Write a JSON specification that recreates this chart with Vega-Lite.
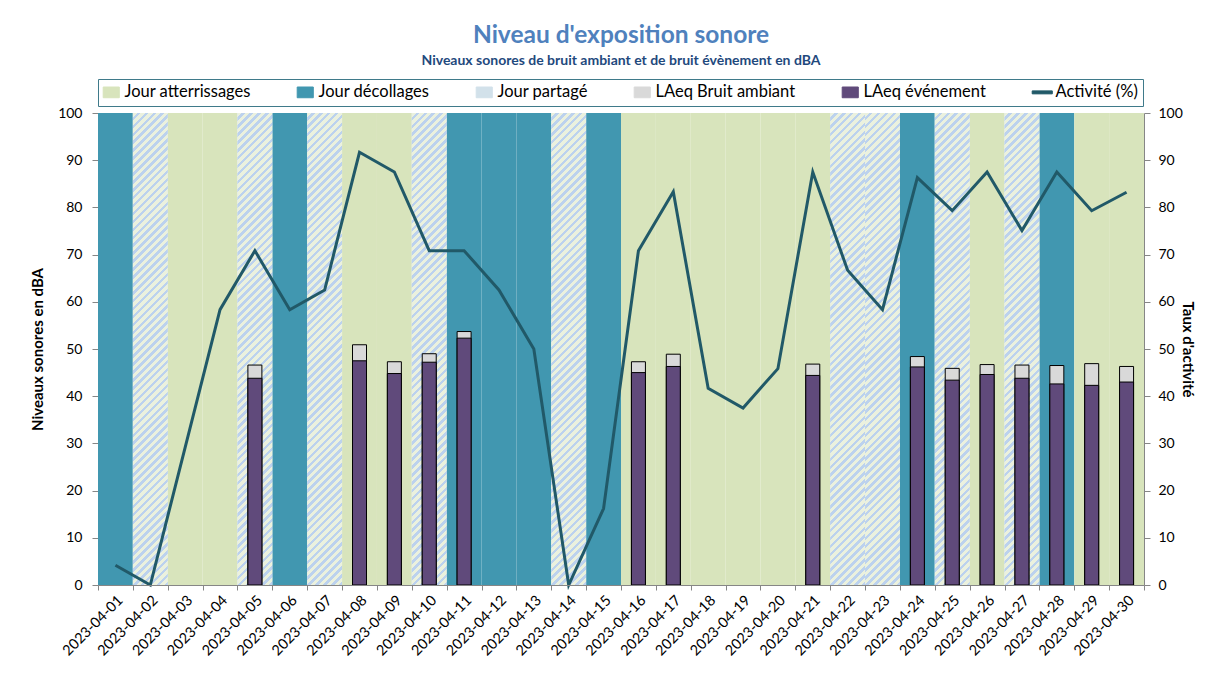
{
  "$schema": "https://vega.github.io/schema/vega-lite/v6.json",
  "width": 1046,
  "height": 472,
  "padding": {"left": 30, "top": 23, "right": 10, "bottom": 0},
  "background": "white",
  "config": {
    "view": {"stroke": null},
    "font": "Lato",
    "axis": {
      "labelFont": "Lato", "labelFontSize": 14, "labelColor": "#000000",
      "titleFont": "Lato", "titleFontSize": 15, "titleFontWeight": "bold", "titleColor": "#000000",
      "tickColor": "#868686", "domainColor": "#868686", "grid": false
    },
    "legend": {
      "orient": "top", "direction": "horizontal",
      "labelFont": "Lato", "labelFontSize": 16.5, "labelColor": "#000000",
      "columnPadding": 44, "padding": 5, "strokeColor": "#3f7a8a",
      "symbolSize": 180, "symbolType": "square", "symbolStrokeWidth": 1, "offset": 7, "labelOffset": 5, "labelLimit": 300
    }
  },
  "title": {
    "text": "Niveau d'exposition sonore",
    "subtitle": "Niveaux sonores de bruit ambiant et de bruit évènement en dBA",
    "anchor": "middle", "frame": "group",
    "font": "Lato", "fontSize": 24.5, "fontWeight": "bold", "color": "#4f81bd",
    "subtitleFont": "Lato", "subtitleFontSize": 14, "subtitleFontWeight": "bold", "subtitleColor": "#1f497d",
    "subtitlePadding": 5, "offset": 10
  },
  "data": {
    "values": [
      {"date": "2023-04-01", "type": "Jour décollages", "activite": 4.17, "ambiant": null, "evenement": null},
      {"date": "2023-04-02", "type": "Jour partagé", "activite": 0, "ambiant": null, "evenement": null},
      {"date": "2023-04-03", "type": "Jour atterrissages", "activite": 29.17, "ambiant": null, "evenement": null},
      {"date": "2023-04-04", "type": "Jour atterrissages", "activite": 58.33, "ambiant": null, "evenement": null},
      {"date": "2023-04-05", "type": "Jour partagé", "activite": 70.83, "ambiant": 46.6, "evenement": 43.8},
      {"date": "2023-04-06", "type": "Jour décollages", "activite": 58.33, "ambiant": null, "evenement": null},
      {"date": "2023-04-07", "type": "Jour partagé", "activite": 62.5, "ambiant": null, "evenement": null},
      {"date": "2023-04-08", "type": "Jour atterrissages", "activite": 91.67, "ambiant": 50.9, "evenement": 47.5},
      {"date": "2023-04-09", "type": "Jour atterrissages", "activite": 87.5, "ambiant": 47.3, "evenement": 44.8},
      {"date": "2023-04-10", "type": "Jour partagé", "activite": 70.83, "ambiant": 49.0, "evenement": 47.2},
      {"date": "2023-04-11", "type": "Jour décollages", "activite": 70.83, "ambiant": 53.7, "evenement": 52.3},
      {"date": "2023-04-12", "type": "Jour décollages", "activite": 62.5, "ambiant": null, "evenement": null},
      {"date": "2023-04-13", "type": "Jour décollages", "activite": 50, "ambiant": null, "evenement": null},
      {"date": "2023-04-14", "type": "Jour partagé", "activite": 0, "ambiant": null, "evenement": null},
      {"date": "2023-04-15", "type": "Jour décollages", "activite": 16.2, "ambiant": null, "evenement": null},
      {"date": "2023-04-16", "type": "Jour atterrissages", "activite": 70.83, "ambiant": 47.3, "evenement": 45.0},
      {"date": "2023-04-17", "type": "Jour atterrissages", "activite": 83.33, "ambiant": 48.9, "evenement": 46.3},
      {"date": "2023-04-18", "type": "Jour atterrissages", "activite": 41.67, "ambiant": null, "evenement": null},
      {"date": "2023-04-19", "type": "Jour atterrissages", "activite": 37.5, "ambiant": null, "evenement": null},
      {"date": "2023-04-20", "type": "Jour atterrissages", "activite": 45.83, "ambiant": null, "evenement": null},
      {"date": "2023-04-21", "type": "Jour atterrissages", "activite": 87.5, "ambiant": 46.8, "evenement": 44.4},
      {"date": "2023-04-22", "type": "Jour partagé", "activite": 66.67, "ambiant": null, "evenement": null},
      {"date": "2023-04-23", "type": "Jour partagé", "activite": 58.33, "ambiant": null, "evenement": null},
      {"date": "2023-04-24", "type": "Jour décollages", "activite": 86.3, "ambiant": 48.4, "evenement": 46.2},
      {"date": "2023-04-25", "type": "Jour partagé", "activite": 79.3, "ambiant": 45.9, "evenement": 43.4},
      {"date": "2023-04-26", "type": "Jour atterrissages", "activite": 87.5, "ambiant": 46.7, "evenement": 44.6},
      {"date": "2023-04-27", "type": "Jour partagé", "activite": 75.1, "ambiant": 46.6, "evenement": 43.8},
      {"date": "2023-04-28", "type": "Jour décollages", "activite": 87.5, "ambiant": 46.5, "evenement": 42.6},
      {"date": "2023-04-29", "type": "Jour atterrissages", "activite": 79.3, "ambiant": 46.9, "evenement": 42.3},
      {"date": "2023-04-30", "type": "Jour atterrissages", "activite": 83.2, "ambiant": 46.3, "evenement": 43.0}
    ]
  },
  "encoding": {
    "x": {
      "field": "date", "type": "nominal", "sort": "ascending",
      "scale": {"paddingInner": 0, "paddingOuter": 0},
      "axis": {"title": null, "labelAngle": -45, "labelPadding": 3, "tickBand": "extent", "tickSize": 5, "labelFontSize": 14.5}
    }
  },
  "layer": [
    {
      "layer": [
        {
          "mark": {"type": "rect"},
          "encoding": {
            "y": {"datum": 100, "type": "quantitative", "scale": {"domain": [0, 100]}, "title": "Niveaux sonores en dBA",
                  "axis": {"values": [0, 10, 20, 30, 40, 50, 60, 70, 80, 90, 100], "labelPadding": 10, "tickSize": 6, "titlePadding": 12}},
            "y2": {"datum": 0},
            "color": {
              "field": "type", "type": "nominal",
              "scale": {
                "domain": ["Jour atterrissages", "Jour décollages", "Jour partagé", "LAeq Bruit ambiant", "LAeq événement", "Activité (%)"],
                "range": ["#d8e4bc", "#4197b0", "#d2e1ea", "#d9d9d9", "#604a7b", "#215968"]
              },
              "legend": {
                "title": null,
                "encode": {
                  "symbols": {
                    "update": {
                      "fill": [
                        {"test": "datum.value === 'Activité (%)'", "value": "#215968"},
                        {"test": "datum.value === 'Jour atterrissages'", "value": "#d8e4bc"},
                        {"test": "datum.value === 'Jour décollages'", "value": "#4197b0"},
                        {"test": "datum.value === 'Jour partagé'", "value": {"gradient": "linear", "x1": 0, "y1": 0, "x2": 0.5, "y2": 1, "stops": [
                          {"offset": 0, "color": "#ebf1de"}, {"offset": 0.14, "color": "#ebf1de"}, {"offset": 0.14, "color": "#bcd2ee"}, {"offset": 0.25, "color": "#bcd2ee"},
                          {"offset": 0.25, "color": "#ebf1de"}, {"offset": 0.39, "color": "#ebf1de"}, {"offset": 0.39, "color": "#bcd2ee"}, {"offset": 0.5, "color": "#bcd2ee"},
                          {"offset": 0.5, "color": "#ebf1de"}, {"offset": 0.64, "color": "#ebf1de"}, {"offset": 0.64, "color": "#bcd2ee"}, {"offset": 0.75, "color": "#bcd2ee"},
                          {"offset": 0.75, "color": "#ebf1de"}, {"offset": 0.89, "color": "#ebf1de"}, {"offset": 0.89, "color": "#bcd2ee"}, {"offset": 1, "color": "#bcd2ee"}
                        ]}},
                        {"test": "datum.value === 'LAeq Bruit ambiant'", "value": "#d9d9d9"},
                        {"value": "#604a7b"}
                      ],
                      "stroke": [
                        {"test": "datum.value === 'LAeq Bruit ambiant' || datum.value === 'LAeq événement'", "value": "#000000"},
                        {"value": "transparent"}
                      ],
                      "shape": [
                        {"test": "datum.value === 'Activité (%)'", "value": "M-1.5,-0.22H1.5V0.22H-1.5Z"},
                        {"value": "M-1.2,-0.8H1.2V0.8H-1.2Z"}
                      ]
                    }
                  }
                }
              }
            }
          }
        },
        {
          "transform": [{"filter": "datum.type === 'Jour partagé'"}],
          "mark": {"type": "rect", "fill": {"gradient": "linear", "x1": 0, "y1": 0, "x2": 0.078896, "y2": 1.068042, "stops": [
{"offset":0,"color":"#ebf1de"},{"offset":0.00859375,"color":"#ebf1de"},{"offset":0.00859375,"color":"#bcd2ee"},{"offset":0.015625,"color":"#bcd2ee"},
{"offset":0.015625,"color":"#ebf1de"},{"offset":0.02421875,"color":"#ebf1de"},{"offset":0.02421875,"color":"#bcd2ee"},{"offset":0.03125,"color":"#bcd2ee"},
{"offset":0.03125,"color":"#ebf1de"},{"offset":0.03984375,"color":"#ebf1de"},{"offset":0.03984375,"color":"#bcd2ee"},{"offset":0.046875,"color":"#bcd2ee"},
{"offset":0.046875,"color":"#ebf1de"},{"offset":0.05546875,"color":"#ebf1de"},{"offset":0.05546875,"color":"#bcd2ee"},{"offset":0.0625,"color":"#bcd2ee"},
{"offset":0.0625,"color":"#ebf1de"},{"offset":0.07109375,"color":"#ebf1de"},{"offset":0.07109375,"color":"#bcd2ee"},{"offset":0.078125,"color":"#bcd2ee"},
{"offset":0.078125,"color":"#ebf1de"},{"offset":0.08671875,"color":"#ebf1de"},{"offset":0.08671875,"color":"#bcd2ee"},{"offset":0.09375,"color":"#bcd2ee"},
{"offset":0.09375,"color":"#ebf1de"},{"offset":0.10234375,"color":"#ebf1de"},{"offset":0.10234375,"color":"#bcd2ee"},{"offset":0.109375,"color":"#bcd2ee"},
{"offset":0.109375,"color":"#ebf1de"},{"offset":0.11796875,"color":"#ebf1de"},{"offset":0.11796875,"color":"#bcd2ee"},{"offset":0.125,"color":"#bcd2ee"},
{"offset":0.125,"color":"#ebf1de"},{"offset":0.13359375,"color":"#ebf1de"},{"offset":0.13359375,"color":"#bcd2ee"},{"offset":0.140625,"color":"#bcd2ee"},
{"offset":0.140625,"color":"#ebf1de"},{"offset":0.14921875,"color":"#ebf1de"},{"offset":0.14921875,"color":"#bcd2ee"},{"offset":0.15625,"color":"#bcd2ee"},
{"offset":0.15625,"color":"#ebf1de"},{"offset":0.16484375,"color":"#ebf1de"},{"offset":0.16484375,"color":"#bcd2ee"},{"offset":0.171875,"color":"#bcd2ee"},
{"offset":0.171875,"color":"#ebf1de"},{"offset":0.18046875,"color":"#ebf1de"},{"offset":0.18046875,"color":"#bcd2ee"},{"offset":0.1875,"color":"#bcd2ee"},
{"offset":0.1875,"color":"#ebf1de"},{"offset":0.19609375,"color":"#ebf1de"},{"offset":0.19609375,"color":"#bcd2ee"},{"offset":0.203125,"color":"#bcd2ee"},
{"offset":0.203125,"color":"#ebf1de"},{"offset":0.21171875,"color":"#ebf1de"},{"offset":0.21171875,"color":"#bcd2ee"},{"offset":0.21875,"color":"#bcd2ee"},
{"offset":0.21875,"color":"#ebf1de"},{"offset":0.22734375,"color":"#ebf1de"},{"offset":0.22734375,"color":"#bcd2ee"},{"offset":0.234375,"color":"#bcd2ee"},
{"offset":0.234375,"color":"#ebf1de"},{"offset":0.24296875,"color":"#ebf1de"},{"offset":0.24296875,"color":"#bcd2ee"},{"offset":0.25,"color":"#bcd2ee"},
{"offset":0.25,"color":"#ebf1de"},{"offset":0.25859375,"color":"#ebf1de"},{"offset":0.25859375,"color":"#bcd2ee"},{"offset":0.265625,"color":"#bcd2ee"},
{"offset":0.265625,"color":"#ebf1de"},{"offset":0.27421875,"color":"#ebf1de"},{"offset":0.27421875,"color":"#bcd2ee"},{"offset":0.28125,"color":"#bcd2ee"},
{"offset":0.28125,"color":"#ebf1de"},{"offset":0.28984375,"color":"#ebf1de"},{"offset":0.28984375,"color":"#bcd2ee"},{"offset":0.296875,"color":"#bcd2ee"},
{"offset":0.296875,"color":"#ebf1de"},{"offset":0.30546875,"color":"#ebf1de"},{"offset":0.30546875,"color":"#bcd2ee"},{"offset":0.3125,"color":"#bcd2ee"},
{"offset":0.3125,"color":"#ebf1de"},{"offset":0.32109375,"color":"#ebf1de"},{"offset":0.32109375,"color":"#bcd2ee"},{"offset":0.328125,"color":"#bcd2ee"},
{"offset":0.328125,"color":"#ebf1de"},{"offset":0.33671875,"color":"#ebf1de"},{"offset":0.33671875,"color":"#bcd2ee"},{"offset":0.34375,"color":"#bcd2ee"},
{"offset":0.34375,"color":"#ebf1de"},{"offset":0.35234375,"color":"#ebf1de"},{"offset":0.35234375,"color":"#bcd2ee"},{"offset":0.359375,"color":"#bcd2ee"},
{"offset":0.359375,"color":"#ebf1de"},{"offset":0.36796875,"color":"#ebf1de"},{"offset":0.36796875,"color":"#bcd2ee"},{"offset":0.375,"color":"#bcd2ee"},
{"offset":0.375,"color":"#ebf1de"},{"offset":0.38359375,"color":"#ebf1de"},{"offset":0.38359375,"color":"#bcd2ee"},{"offset":0.390625,"color":"#bcd2ee"},
{"offset":0.390625,"color":"#ebf1de"},{"offset":0.39921875,"color":"#ebf1de"},{"offset":0.39921875,"color":"#bcd2ee"},{"offset":0.40625,"color":"#bcd2ee"},
{"offset":0.40625,"color":"#ebf1de"},{"offset":0.41484375,"color":"#ebf1de"},{"offset":0.41484375,"color":"#bcd2ee"},{"offset":0.421875,"color":"#bcd2ee"},
{"offset":0.421875,"color":"#ebf1de"},{"offset":0.43046875,"color":"#ebf1de"},{"offset":0.43046875,"color":"#bcd2ee"},{"offset":0.4375,"color":"#bcd2ee"},
{"offset":0.4375,"color":"#ebf1de"},{"offset":0.44609375,"color":"#ebf1de"},{"offset":0.44609375,"color":"#bcd2ee"},{"offset":0.453125,"color":"#bcd2ee"},
{"offset":0.453125,"color":"#ebf1de"},{"offset":0.46171875,"color":"#ebf1de"},{"offset":0.46171875,"color":"#bcd2ee"},{"offset":0.46875,"color":"#bcd2ee"},
{"offset":0.46875,"color":"#ebf1de"},{"offset":0.47734375,"color":"#ebf1de"},{"offset":0.47734375,"color":"#bcd2ee"},{"offset":0.484375,"color":"#bcd2ee"},
{"offset":0.484375,"color":"#ebf1de"},{"offset":0.49296875,"color":"#ebf1de"},{"offset":0.49296875,"color":"#bcd2ee"},{"offset":0.5,"color":"#bcd2ee"},
{"offset":0.5,"color":"#ebf1de"},{"offset":0.50859375,"color":"#ebf1de"},{"offset":0.50859375,"color":"#bcd2ee"},{"offset":0.515625,"color":"#bcd2ee"},
{"offset":0.515625,"color":"#ebf1de"},{"offset":0.52421875,"color":"#ebf1de"},{"offset":0.52421875,"color":"#bcd2ee"},{"offset":0.53125,"color":"#bcd2ee"},
{"offset":0.53125,"color":"#ebf1de"},{"offset":0.53984375,"color":"#ebf1de"},{"offset":0.53984375,"color":"#bcd2ee"},{"offset":0.546875,"color":"#bcd2ee"},
{"offset":0.546875,"color":"#ebf1de"},{"offset":0.55546875,"color":"#ebf1de"},{"offset":0.55546875,"color":"#bcd2ee"},{"offset":0.5625,"color":"#bcd2ee"},
{"offset":0.5625,"color":"#ebf1de"},{"offset":0.57109375,"color":"#ebf1de"},{"offset":0.57109375,"color":"#bcd2ee"},{"offset":0.578125,"color":"#bcd2ee"},
{"offset":0.578125,"color":"#ebf1de"},{"offset":0.58671875,"color":"#ebf1de"},{"offset":0.58671875,"color":"#bcd2ee"},{"offset":0.59375,"color":"#bcd2ee"},
{"offset":0.59375,"color":"#ebf1de"},{"offset":0.60234375,"color":"#ebf1de"},{"offset":0.60234375,"color":"#bcd2ee"},{"offset":0.609375,"color":"#bcd2ee"},
{"offset":0.609375,"color":"#ebf1de"},{"offset":0.61796875,"color":"#ebf1de"},{"offset":0.61796875,"color":"#bcd2ee"},{"offset":0.625,"color":"#bcd2ee"},
{"offset":0.625,"color":"#ebf1de"},{"offset":0.63359375,"color":"#ebf1de"},{"offset":0.63359375,"color":"#bcd2ee"},{"offset":0.640625,"color":"#bcd2ee"},
{"offset":0.640625,"color":"#ebf1de"},{"offset":0.64921875,"color":"#ebf1de"},{"offset":0.64921875,"color":"#bcd2ee"},{"offset":0.65625,"color":"#bcd2ee"},
{"offset":0.65625,"color":"#ebf1de"},{"offset":0.66484375,"color":"#ebf1de"},{"offset":0.66484375,"color":"#bcd2ee"},{"offset":0.671875,"color":"#bcd2ee"},
{"offset":0.671875,"color":"#ebf1de"},{"offset":0.68046875,"color":"#ebf1de"},{"offset":0.68046875,"color":"#bcd2ee"},{"offset":0.6875,"color":"#bcd2ee"},
{"offset":0.6875,"color":"#ebf1de"},{"offset":0.69609375,"color":"#ebf1de"},{"offset":0.69609375,"color":"#bcd2ee"},{"offset":0.703125,"color":"#bcd2ee"},
{"offset":0.703125,"color":"#ebf1de"},{"offset":0.71171875,"color":"#ebf1de"},{"offset":0.71171875,"color":"#bcd2ee"},{"offset":0.71875,"color":"#bcd2ee"},
{"offset":0.71875,"color":"#ebf1de"},{"offset":0.72734375,"color":"#ebf1de"},{"offset":0.72734375,"color":"#bcd2ee"},{"offset":0.734375,"color":"#bcd2ee"},
{"offset":0.734375,"color":"#ebf1de"},{"offset":0.74296875,"color":"#ebf1de"},{"offset":0.74296875,"color":"#bcd2ee"},{"offset":0.75,"color":"#bcd2ee"},
{"offset":0.75,"color":"#ebf1de"},{"offset":0.75859375,"color":"#ebf1de"},{"offset":0.75859375,"color":"#bcd2ee"},{"offset":0.765625,"color":"#bcd2ee"},
{"offset":0.765625,"color":"#ebf1de"},{"offset":0.77421875,"color":"#ebf1de"},{"offset":0.77421875,"color":"#bcd2ee"},{"offset":0.78125,"color":"#bcd2ee"},
{"offset":0.78125,"color":"#ebf1de"},{"offset":0.78984375,"color":"#ebf1de"},{"offset":0.78984375,"color":"#bcd2ee"},{"offset":0.796875,"color":"#bcd2ee"},
{"offset":0.796875,"color":"#ebf1de"},{"offset":0.80546875,"color":"#ebf1de"},{"offset":0.80546875,"color":"#bcd2ee"},{"offset":0.8125,"color":"#bcd2ee"},
{"offset":0.8125,"color":"#ebf1de"},{"offset":0.82109375,"color":"#ebf1de"},{"offset":0.82109375,"color":"#bcd2ee"},{"offset":0.828125,"color":"#bcd2ee"},
{"offset":0.828125,"color":"#ebf1de"},{"offset":0.83671875,"color":"#ebf1de"},{"offset":0.83671875,"color":"#bcd2ee"},{"offset":0.84375,"color":"#bcd2ee"},
{"offset":0.84375,"color":"#ebf1de"},{"offset":0.85234375,"color":"#ebf1de"},{"offset":0.85234375,"color":"#bcd2ee"},{"offset":0.859375,"color":"#bcd2ee"},
{"offset":0.859375,"color":"#ebf1de"},{"offset":0.86796875,"color":"#ebf1de"},{"offset":0.86796875,"color":"#bcd2ee"},{"offset":0.875,"color":"#bcd2ee"},
{"offset":0.875,"color":"#ebf1de"},{"offset":0.88359375,"color":"#ebf1de"},{"offset":0.88359375,"color":"#bcd2ee"},{"offset":0.890625,"color":"#bcd2ee"},
{"offset":0.890625,"color":"#ebf1de"},{"offset":0.89921875,"color":"#ebf1de"},{"offset":0.89921875,"color":"#bcd2ee"},{"offset":0.90625,"color":"#bcd2ee"},
{"offset":0.90625,"color":"#ebf1de"},{"offset":0.91484375,"color":"#ebf1de"},{"offset":0.91484375,"color":"#bcd2ee"},{"offset":0.921875,"color":"#bcd2ee"},
{"offset":0.921875,"color":"#ebf1de"},{"offset":0.93046875,"color":"#ebf1de"},{"offset":0.93046875,"color":"#bcd2ee"},{"offset":0.9375,"color":"#bcd2ee"},
{"offset":0.9375,"color":"#ebf1de"},{"offset":0.94609375,"color":"#ebf1de"},{"offset":0.94609375,"color":"#bcd2ee"},{"offset":0.953125,"color":"#bcd2ee"},
{"offset":0.953125,"color":"#ebf1de"},{"offset":0.96171875,"color":"#ebf1de"},{"offset":0.96171875,"color":"#bcd2ee"},{"offset":0.96875,"color":"#bcd2ee"},
{"offset":0.96875,"color":"#ebf1de"},{"offset":0.97734375,"color":"#ebf1de"},{"offset":0.97734375,"color":"#bcd2ee"},{"offset":0.984375,"color":"#bcd2ee"},
{"offset":0.984375,"color":"#ebf1de"},{"offset":0.99296875,"color":"#ebf1de"},{"offset":0.99296875,"color":"#bcd2ee"},{"offset":1,"color":"#bcd2ee"}
          ]}},
          "encoding": {
            "y": {"datum": 100, "type": "quantitative", "scale": {"domain": [0, 100]}, "title": "Niveaux sonores en dBA",
                  "axis": {"values": [0, 10, 20, 30, 40, 50, 60, 70, 80, 90, 100], "labelPadding": 10, "tickSize": 6, "titlePadding": 12}},
            "y2": {"datum": 0}
          }
        },
        {
          "mark": {"type": "bar", "width": 14, "stroke": "#000000", "strokeWidth": 1},
          "encoding": {
            "y": {"field": "ambiant", "type": "quantitative", "scale": {"domain": [0, 100]}, "title": "Niveaux sonores en dBA",
                  "axis": {"values": [0, 10, 20, 30, 40, 50, 60, 70, 80, 90, 100], "labelPadding": 10, "tickSize": 6, "titlePadding": 12}},
            "color": {"datum": "LAeq Bruit ambiant", "type": "nominal"}
          }
        },
        {
          "mark": {"type": "bar", "width": 14, "stroke": "#000000", "strokeWidth": 1},
          "encoding": {
            "y": {"field": "evenement", "type": "quantitative", "scale": {"domain": [0, 100]}, "title": "Niveaux sonores en dBA",
                  "axis": {"values": [0, 10, 20, 30, 40, 50, 60, 70, 80, 90, 100], "labelPadding": 10, "tickSize": 6, "titlePadding": 12}},
            "color": {"datum": "LAeq événement", "type": "nominal"}
          }
        }
      ]
    },
    {
      "mark": {"type": "line", "strokeWidth": 3},
      "encoding": {
        "y": {"field": "activite", "type": "quantitative", "scale": {"domain": [0, 100]}, "title": "Taux d'activité",
              "axis": {"orient": "right", "values": [0, 10, 20, 30, 40, 50, 60, 70, 80, 90, 100], "labelPadding": 8, "tickSize": 6, "titlePadding": -3}},
        "color": {"datum": "Activité (%)", "type": "nominal"}
      }
    }
  ],
  "resolve": {"scale": {"y": "independent"}}
}
